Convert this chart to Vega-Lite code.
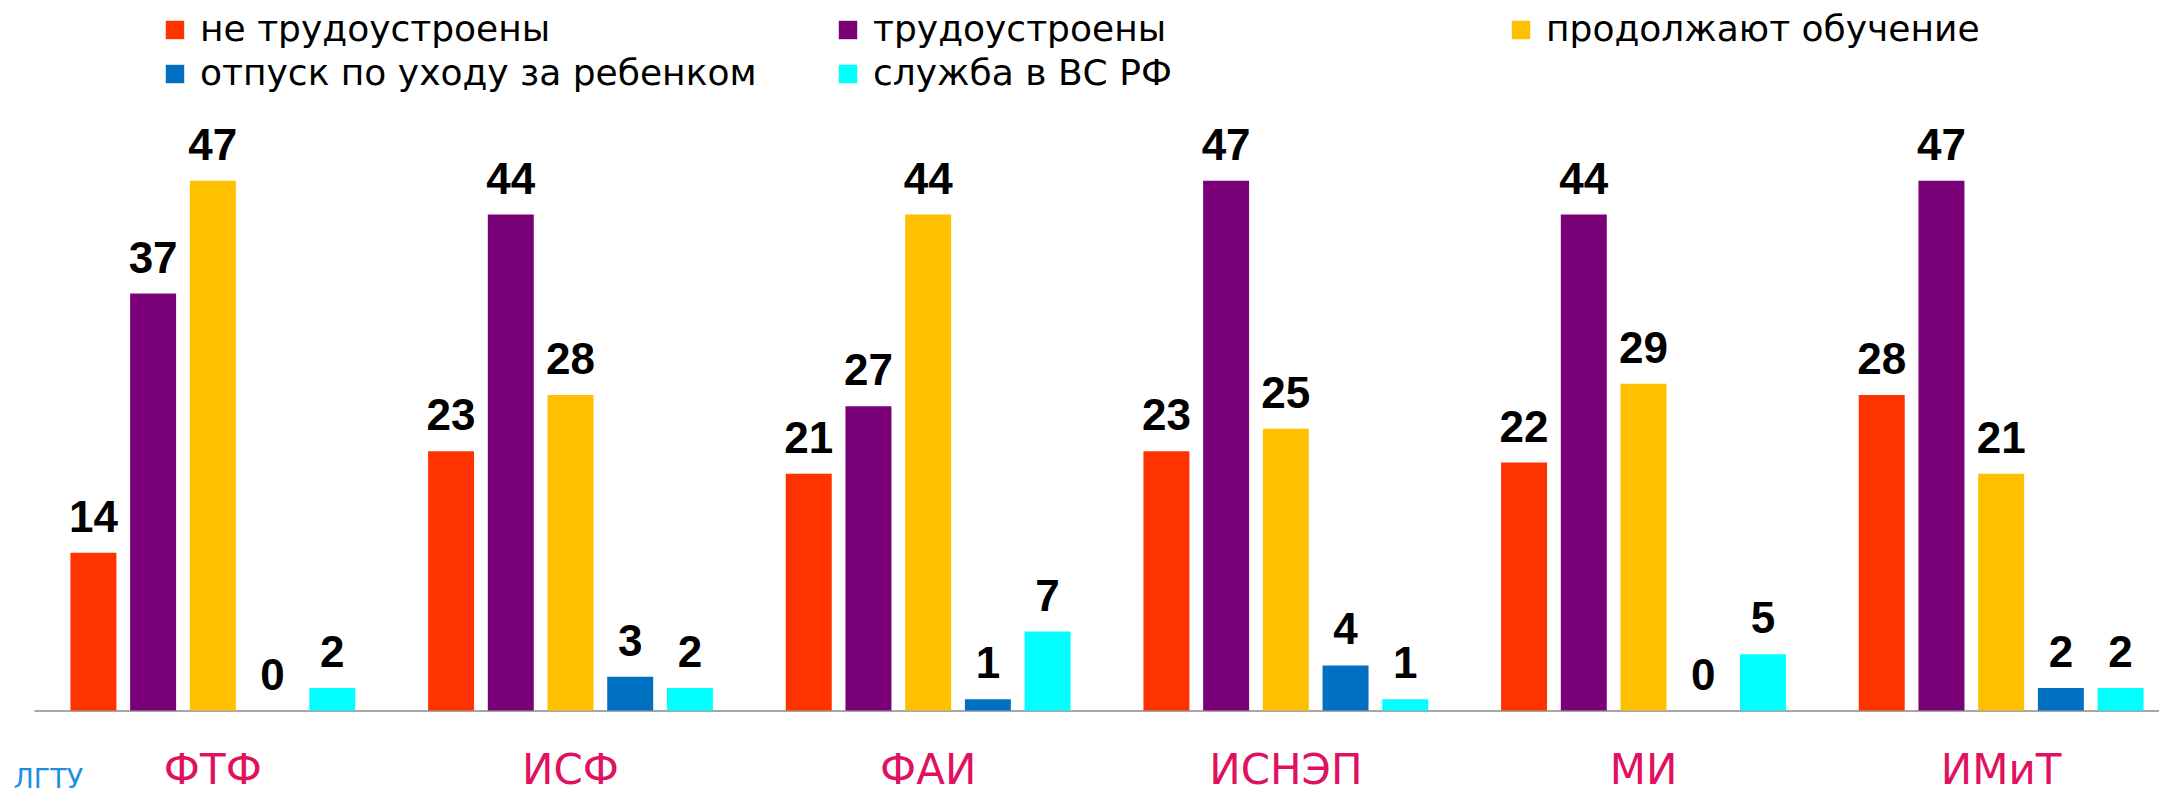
{
  "$schema": "https://vega.github.io/schema/vega-lite/v6.json",
  "autosize": {"type": "none"},
  "width": 2125,
  "height": 563.5,
  "padding": {"left": 34, "top": 147, "right": 0, "bottom": 85.5},
  "background": "white",
  "config": {"view": {"stroke": null}, "font": "DejaVu Sans"},
  "data": {
    "values": [
      {"institute": "ФТФ", "status": "не трудоустроены", "count": 14},
      {"institute": "ФТФ", "status": "трудоустроены", "count": 37},
      {"institute": "ФТФ", "status": "продолжают обучение", "count": 47},
      {"institute": "ФТФ", "status": "отпуск по уходу за ребенком", "count": 0},
      {"institute": "ФТФ", "status": "служба в ВС РФ", "count": 2},
      {"institute": "ИСФ", "status": "не трудоустроены", "count": 23},
      {"institute": "ИСФ", "status": "трудоустроены", "count": 44},
      {"institute": "ИСФ", "status": "продолжают обучение", "count": 28},
      {"institute": "ИСФ", "status": "отпуск по уходу за ребенком", "count": 3},
      {"institute": "ИСФ", "status": "служба в ВС РФ", "count": 2},
      {"institute": "ФАИ", "status": "не трудоустроены", "count": 21},
      {"institute": "ФАИ", "status": "трудоустроены", "count": 27},
      {"institute": "ФАИ", "status": "продолжают обучение", "count": 44},
      {"institute": "ФАИ", "status": "отпуск по уходу за ребенком", "count": 1},
      {"institute": "ФАИ", "status": "служба в ВС РФ", "count": 7},
      {"institute": "ИСНЭП", "status": "не трудоустроены", "count": 23},
      {"institute": "ИСНЭП", "status": "трудоустроены", "count": 47},
      {"institute": "ИСНЭП", "status": "продолжают обучение", "count": 25},
      {"institute": "ИСНЭП", "status": "отпуск по уходу за ребенком", "count": 4},
      {"institute": "ИСНЭП", "status": "служба в ВС РФ", "count": 1},
      {"institute": "МИ", "status": "не трудоустроены", "count": 22},
      {"institute": "МИ", "status": "трудоустроены", "count": 44},
      {"institute": "МИ", "status": "продолжают обучение", "count": 29},
      {"institute": "МИ", "status": "отпуск по уходу за ребенком", "count": 0},
      {"institute": "МИ", "status": "служба в ВС РФ", "count": 5},
      {"institute": "ИМиТ", "status": "не трудоустроены", "count": 28},
      {"institute": "ИМиТ", "status": "трудоустроены", "count": 47},
      {"institute": "ИМиТ", "status": "продолжают обучение", "count": 21},
      {"institute": "ИМиТ", "status": "отпуск по уходу за ребенком", "count": 2},
      {"institute": "ИМиТ", "status": "служба в ВС РФ", "count": 2}
    ]
  },
  "encoding": {
    "x": {
      "field": "institute",
      "type": "nominal",
      "sort": null,
      "scale": {"range": [0, 2146], "paddingInner": 0, "paddingOuter": 0},
      "axis": {
        "title": "ЛГТУ",
        "titleX": -21,
        "titleY": 77,
        "titleAlign": "left",
        "titleAnchor": null,
        "titleBaseline": "alphabetic",
        "titleFont": "DejaVu Sans",
        "titleFontSize": 27,
        "titleFontWeight": "normal",
        "titleColor": "#1B8FE0",
        "labelAngle": 0,
        "labelFont": "DejaVu Sans",
        "labelFontSize": 42,
        "labelColor": "#E0115F",
        "labelBaseline": "alphabetic",
        "labelPadding": 73,
        "ticks": false,
        "domainColor": "#A6A6A6",
        "domainWidth": 2
      }
    },
    "xOffset": {
      "field": "status",
      "type": "nominal",
      "sort": ["не трудоустроены", "трудоустроены", "продолжают обучение", "отпуск по уходу за ребенком", "служба в ВС РФ"],
      "scale": {"paddingInner": 0.23, "paddingOuter": 0.61}
    },
    "y": {
      "field": "count",
      "type": "quantitative",
      "scale": {"domain": [0, 50]},
      "axis": null
    }
  },
  "layer": [
    {
      "mark": {"type": "bar"},
      "encoding": {
        "color": {
          "field": "status",
          "type": "nominal",
          "sort": ["не трудоустроены", "трудоустроены", "продолжают обучение", "отпуск по уходу за ребенком", "служба в ВС РФ"],
          "scale": {
            "domain": ["не трудоустроены", "трудоустроены", "продолжают обучение", "отпуск по уходу за ребенком", "служба в ВС РФ"],
            "range": ["#FF3300", "#7A0077", "#FFC000", "#0070C0", "#00FFFF"]
          },
          "legend": {
            "orient": "none",
            "legendX": 123,
            "legendY": -135,
            "direction": "horizontal",
            "columns": 3,
            "gridAlign": "all",
            "columnPadding": 73,
            "rowPadding": 8,
            "title": null,
            "symbolType": "square",
            "symbolSize": 340,
            "symbolStrokeWidth": 0,
            "labelFont": "DejaVu Sans",
            "labelFontSize": 36,
            "labelColor": "black",
            "labelOffset": 7,
            "labelLimit": 0
          }
        }
      }
    },
    {
      "mark": {
        "type": "text",
        "baseline": "alphabetic",
        "dy": -21,
        "font": "Liberation Sans",
        "fontWeight": "bold",
        "fontSize": 44,
        "color": "black"
      },
      "encoding": {"text": {"field": "count", "type": "quantitative"}}
    }
  ]
}
